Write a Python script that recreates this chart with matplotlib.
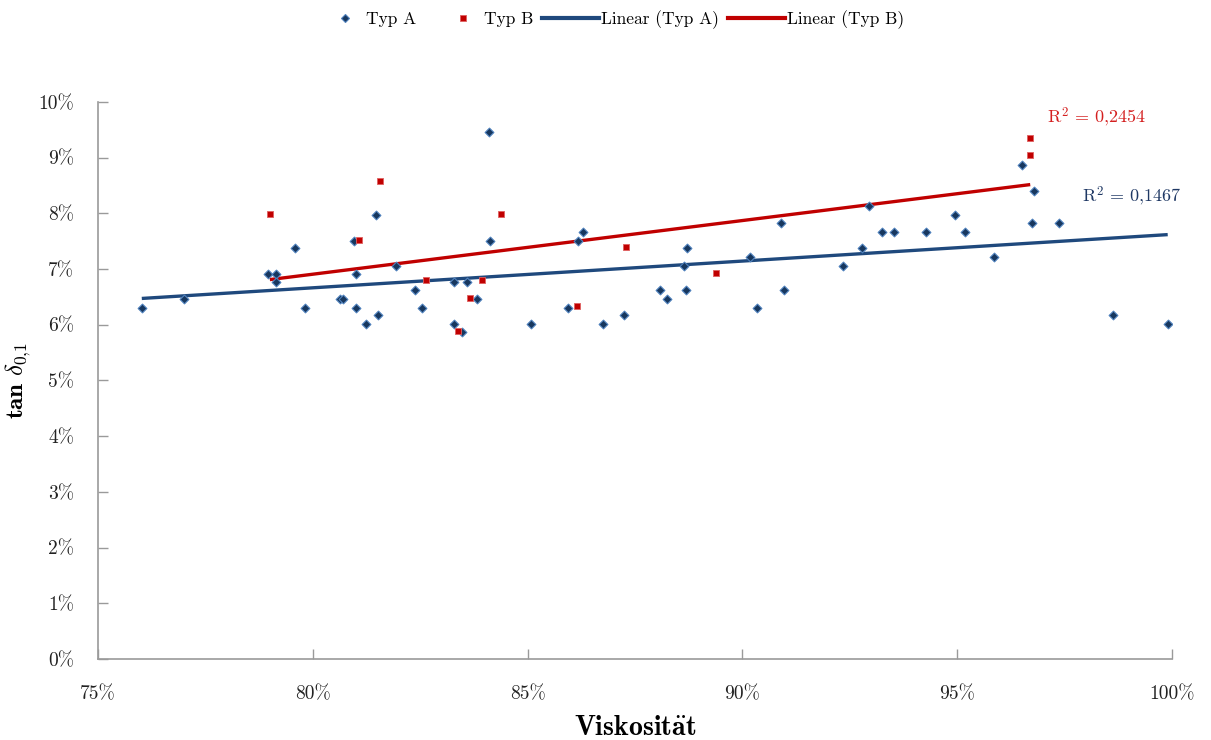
import numpy as np
import matplotlib
matplotlib.use("Agg")
import matplotlib.pyplot as plt
from matplotlib.ticker import PercentFormatter, MultipleLocator
from matplotlib.lines import Line2D
from matplotlib.legend_handler import HandlerLine2D

plt.rcParams['font.family'] = ['cmr10', 'DejaVu Serif']
plt.rcParams['mathtext.fontset'] = 'cm'
plt.rcParams['axes.formatter.use_mathtext'] = True

# Typ A: viscosity (%) vs tan delta (%)
typ_a_x = [76.02, 77.00, 78.96, 79.14, 79.14, 79.59, 79.82, 80.64, 80.71, 80.95,
           81.01, 81.01, 81.25, 81.48, 81.51, 81.94, 82.38, 82.55, 83.29, 83.29,
           83.48, 83.60, 83.82, 84.10, 84.13, 85.09, 85.95, 86.18, 86.29, 86.76,
           87.24, 88.08, 88.25, 88.63, 88.71, 88.68, 90.18, 90.35, 90.91, 90.96,
           92.35, 92.78, 92.95, 93.24, 93.52, 94.28, 94.95, 95.18, 95.86, 96.50,
           96.78, 96.73, 97.37, 98.63, 99.90]
typ_a_y = [6.30, 6.46, 6.91, 6.91, 6.77, 7.38, 6.30, 6.46, 6.46, 7.50,
           6.91, 6.31, 6.01, 7.97, 6.17, 7.06, 6.62, 6.31, 6.77, 6.02,
           5.87, 6.77, 6.46, 9.46, 7.50, 6.02, 6.31, 7.50, 7.66, 6.02,
           6.17, 6.62, 6.46, 7.06, 7.37, 6.62, 7.22, 6.31, 7.82, 6.62,
           7.06, 7.37, 8.13, 7.66, 7.66, 7.66, 7.97, 7.66, 7.22, 8.86,
           8.41, 7.82, 7.82, 6.17, 6.02]

# Typ B
typ_b_x = [79.00, 81.08, 81.57, 82.63, 83.39, 83.67, 83.93, 84.37, 86.15, 87.30,
           89.38, 96.70, 96.70]
typ_b_y = [7.99, 7.53, 8.59, 6.80, 5.88, 6.48, 6.80, 7.99, 6.33, 7.40,
           6.93, 9.35, 9.04]

r2_labels = ["R$^2$ = 0,1467", "R$^2$ = 0,2454"]
legend_labels = ["Typ A", "Typ B", "Linear (Typ A)", "Linear (Typ B)"]

xa = np.array(typ_a_x) / 100
ya = np.array(typ_a_y) / 100
xb = np.array(typ_b_x) / 100
yb = np.array(typ_b_y) / 100

blue = '#1f497d'
red = '#c00000'
marker_blue = '#17375e'
edge_blue = '#4f81bd'


class MarkerNearText(HandlerLine2D):
    """Legend handler that puts a lone marker close to its label."""
    def get_xdata(self, legend, xdescent, ydescent, width, height, fontsize):
        p = width - xdescent - 14.0
        xd = np.array([p - 0.5, p + 0.5])
        return xd, np.array([p])


fig = plt.figure(figsize=(12.11, 7.40), dpi=100)
ax = fig.add_axes([0.0809, 0.1095, 0.8869, 0.7527])

ax.scatter(xa, ya, marker='D', s=20, c=marker_blue, edgecolors=edge_blue,
           linewidths=0.8, zorder=3)
ax.scatter(xb, yb, marker='s', s=22, c=red, edgecolors='#e06060',
           linewidths=0.6, zorder=3)

# Linear trend lines over each series' range
for x, y, col in [(xa, ya, blue), (xb, yb, red)]:
    k, d = np.polyfit(x, y, 1)
    xs = np.array([x.min(), x.max()])
    ax.plot(xs, k * xs + d, color=col, lw=2.4, zorder=2, solid_capstyle='butt')

ax.text(0.9790, 0.0830, r2_labels[0], color='#1f3864', fontsize=13,
        ha='left', va='center')
ax.text(0.9709, 0.0973, r2_labels[1], color='#d42020', fontsize=13,
        ha='left', va='center')

ax.set_xlim(0.75, 1.0)
ax.set_ylim(0.0, 0.10)
ax.xaxis.set_major_locator(MultipleLocator(0.05))
ax.yaxis.set_major_locator(MultipleLocator(0.01))
ax.xaxis.set_major_formatter(PercentFormatter(xmax=1, decimals=0))
ax.yaxis.set_major_formatter(PercentFormatter(xmax=1, decimals=0))

for s in ['top', 'right']:
    ax.spines[s].set_visible(False)
for s in ['left', 'bottom']:
    ax.spines[s].set_color('#9a9a9a')
    ax.spines[s].set_linewidth(1.2)
ax.tick_params(axis='both', direction='in', length=7, width=1, color='#9a9a9a',
               labelsize=14, labelcolor='#222222')
ax.tick_params(axis='x', pad=19)
ax.tick_params(axis='y', pad=17)

ax.set_xlabel(r'$\mathbf{Viskosit\ddot{a}t}$', fontsize=20, labelpad=8)
ax.set_ylabel(r'$\mathbf{tan}\ \delta_{\mathbf{0{,}1}}$', fontsize=18)
ax.yaxis.set_label_coords(-0.0605, 0.5)

h_a = Line2D([], [], marker='D', ls='none', markersize=4.5, markerfacecolor=marker_blue,
             markeredgecolor=edge_blue, markeredgewidth=0.8)
h_b = Line2D([], [], marker='s', ls='none', markersize=4.5, markerfacecolor=red,
             markeredgecolor='#e06060', markeredgewidth=0.6)
h_la = Line2D([], [], color=blue, lw=3)
h_lb = Line2D([], [], color=red, lw=3)
fig.legend([h_a, h_b, h_la, h_lb], legend_labels, loc='center',
           bbox_to_anchor=(0.500, 0.973), ncol=4, frameon=False, fontsize=12.5,
           handlelength=3.3, handletextpad=0.1, columnspacing=0.5, numpoints=1,
           handler_map={h_a: MarkerNearText(), h_b: MarkerNearText()})

fig.savefig('out.png', dpi=100, facecolor='white')
